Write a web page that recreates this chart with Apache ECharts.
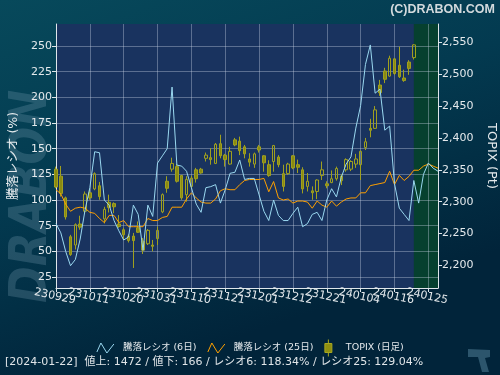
<!DOCTYPE html>
<html><head><meta charset="utf-8">
<script src="https://cdn.jsdelivr.net/npm/echarts@6/dist/echarts.min.js"></script>
<style>html,body{margin:0;padding:0;background:#02283c}#c{width:500px;height:375px}</style>
</head><body><div id="c"></div>
<script>
const dates = ['230929','231002','231003','231004','231005','231006','231010','231011','231012','231013','231016','231017','231018','231019','231020','231023','231024','231025','231026','231027','231030','231031','231101','231102','231106','231107','231108','231109','231110','231113','231114','231115','231116','231117','231120','231121','231122','231124','231127','231128','231129','231130','231201','231204','231205','231206','231207','231208','231211','231212','231213','231214','231215','231218','231219','231220','231221','231222','231225','231226','231227','231228','231229','240104','240105','240109','240110','240111','240112','240115','240116','240117','240118','240119','240122','240123','240124','240125','240126','240129'];
const ratio6 = [77,68,50,36,42,62,90,112,147,146,100,95,80,70,61,64,95,86,51,95,84,136,143,150,210,134,133,128,112,96,88,112,113,115,97,110,126,127,139,120,121,121,105,89,80,100,85,80,80,87,93,74,77,86,88,80,100,111,103,122,135,142,170,192,232,251,204,208,168,172,116,92,86,80,119,97,125,136,131,128];
const ratio25 = [110,106,96,89,92,93,92,88,87,82,78,85,85,78,80,74,74,74,74,82,80,80,83,84,93,93,93,101,107,102,98,97,97,101,109,111,110,110,115,119,120,120,120,121,108,118,102,100,101,97,99,99,98,92,99,95,93,99,94,98,101,102,102,107,107,114,115,116,117,128,115,124,119,123,129,129,133,135,133,131];
const topixOpen = [2351,2340,2306,2245,2232,2265,2285,2314,2320,2325,2273,2299,2297,2265,2256,2246,2246,2259,2238,2234,2232,2242,2284,2332,2351,2355,2341,2311,2324,2350,2351,2368,2369,2360,2391,2373,2359,2397,2395,2386,2367,2359,2386,2372,2358,2363,2370,2344,2344,2372,2358,2350,2324,2317,2316,2341,2328,2330,2336,2340,2350,2351,2359,2358,2385,2415,2415,2483,2505,2497,2524,2514,2494,2519,2526];
const topixClose = [2323,2313,2276,2217,2264,2260,2312,2306,2344,2308,2288,2291,2292,2261,2248,2239,2239,2252,2224,2255,2230,2255,2311,2321,2360,2332,2306,2335,2337,2336,2345,2373,2366,2390,2372,2366,2379,2389,2380,2375,2362,2375,2381,2361,2341,2388,2358,2324,2359,2353,2354,2320,2332,2314,2334,2350,2325,2336,2352,2333,2366,2363,2367,2379,2394,2412,2444,2471,2492,2525,2501,2496,2490,2509,2546];
const topixLow = [2321,2308,2272,2215,2225,2256,2282,2303,2318,2303,2266,2283,2282,2259,2240,2236,2196,2251,2218,2232,2222,2232,2282,2314,2347,2330,2303,2300,2321,2330,2344,2363,2358,2359,2368,2355,2358,2387,2373,2368,2355,2353,2377,2347,2339,2347,2354,2316,2342,2351,2345,2313,2316,2303,2304,2334,2321,2329,2333,2326,2347,2348,2353,2334,2381,2401,2414,2466,2486,2496,2499,2494,2488,2499,2523];
const topixHigh = [2355,2356,2308,2248,2266,2278,2316,2320,2346,2331,2292,2311,2299,2279,2259,2249,2251,2269,2243,2257,2240,2261,2313,2340,2369,2359,2342,2340,2341,2353,2353,2377,2384,2392,2405,2375,2386,2400,2402,2389,2376,2377,2389,2373,2365,2389,2373,2358,2361,2373,2366,2354,2345,2324,2335,2363,2332,2349,2355,2343,2368,2365,2375,2380,2400,2430,2450,2491,2510,2529,2525,2543,2507,2522,2547];
const leftTicks = [25,50,75,100,125,150,175,200,225,250];
const rightTicks = [2200,2250,2300,2350,2400,2450,2500,2550];
const seriesNames = ['騰落レシオ (6日)','騰落レシオ (25日)','TOPIX (日足)'];
const statusText = '[2024-01-22]  値上: 1472 / 値下: 166 / レシオ6: 118.34% / レシオ25: 129.04%';

const FONT = '"DejaVu Sans","Noto Sans CJK JP",sans-serif';
const txt = '#e4e9ec';
const gridLine = 'rgba(200,210,225,0.38)';
const candleData = topixOpen.map((o,i)=>[o, topixClose[i], topixLow[i], topixHigh[i]]);
const labelStyle = {rotate:-12,align:'center',verticalAlign:'top',margin:3,color:txt,fontSize:11,fontFamily:FONT,hideOverlap:false};
const chart = echarts.init(document.getElementById('c'), null, {renderer:'canvas'});
chart.setOption({
  animation:false,
  backgroundColor:{type:'linear',x:0,y:0,x2:0.25,y2:1,colorStops:[{offset:0,color:'#07495b'},{offset:0.5,color:'#033a50'},{offset:1,color:'#01243a'}]},
  grid:{left:56,right:62,top:24,bottom:87,show:true,backgroundColor:'#19335f',borderWidth:0,outerBoundsMode:'none',containLabel:false},
  xAxis:[
    {type:'category',data:dates,boundaryGap:false,z:3,
     axisLine:{lineStyle:{color:'#dfe6ea',width:1}},
     axisTick:{interval:6,length:4,lineStyle:{color:'#dfe6ea'}},
     axisLabel:Object.assign({interval:(i)=>i%14===0},labelStyle),
     splitLine:{show:true,interval:6,lineStyle:{color:gridLine,width:1}}},
    {type:'category',data:dates,boundaryGap:false,position:'bottom',z:3,
     axisLine:{show:false},axisTick:{show:false},splitLine:{show:false},
     axisLabel:Object.assign({interval:(i)=>i%14===7},labelStyle)}
  ],
  yAxis:[
    {type:'value',min:14.3,max:271.4,z:3,name:'騰落レシオ (%)',nameLocation:'middle',nameGap:35,
     nameTextStyle:{color:txt,fontSize:12.5,fontFamily:FONT},
     axisLine:{show:true,lineStyle:{color:'#dfe6ea'}},
     axisTick:{show:true,length:4,customValues:leftTicks,lineStyle:{color:'#dfe6ea'}},
     axisLabel:{customValues:leftTicks,margin:4,color:txt,fontSize:11,fontFamily:FONT},
     splitLine:{show:true,lineStyle:{color:gridLine,width:1}}},
    {type:'value',min:2164.6,max:2578.7,position:'right',z:3,name:'TOPIX (Pt)',nameLocation:'middle',nameGap:39,nameRotate:-90,
     nameTextStyle:{color:txt,fontSize:13,fontFamily:FONT},
     axisLine:{show:true,lineStyle:{color:'#dfe6ea'}},
     axisTick:{show:true,length:4,customValues:rightTicks,lineStyle:{color:'#dfe6ea'}},
     axisLabel:{customValues:rightTicks,margin:4,color:txt,fontSize:11,fontFamily:FONT,
       formatter:v=>String(v).replace(/\B(?=(\d{3})+(?!\d))/g,',')},
     splitLine:{show:false}}
  ],
  legend:{left:'center',top:334,itemWidth:17,itemHeight:17,itemGap:11,
    textStyle:{color:txt,fontSize:9.5,fontFamily:FONT,padding:[0,0,0,4]},
    data:[
      {name:seriesNames[0],icon:'path://M0,9L4,0L10,10L17,1',itemStyle:{color:'rgba(0,0,0,0)',borderColor:'#9ad8f0',borderWidth:1}},
      {name:seriesNames[1],icon:'path://M0,9L4,0L10,10L17,1',itemStyle:{color:'rgba(0,0,0,0)',borderColor:'#ffa000',borderWidth:1}},
      {name:seriesNames[2],icon:'path://M3.5,0L3.5,4M0,4L7,4L7,13L0,13ZM3.5,13L3.5,17',itemStyle:{color:'#8f8f10',borderColor:'#a8a820',borderWidth:1}}
    ]},
  graphic:[
    {type:'text',x:58,y:303,rotation:Math.PI/2,scaleX:0.85,z:-10,silent:true,
     style:{text:'DRABON',align:'left',verticalAlign:'bottom',font:'italic bold 52px "DejaVu Sans"',fill:'rgba(130,165,185,0.26)'}},
    {type:'text',right:5,top:3,silent:true,style:{text:'(C)DRABON.COM',font:'bold 12.5px "Liberation Sans"',fill:'#d3dadd'}},
    {type:'text',left:5,top:357,silent:true,style:{text:statusText,font:'11px '+FONT,fill:'#e0e5e8'}},
    {type:'polygon',silent:true,shape:{points:[[468,349],[490,350],[490,357],[485,358],[489,372],[482,372],[478,357],[468,357]]},style:{fill:'rgba(80,125,150,0.55)'}}
  ],
  series:[
    {type:'line',name:'_area',data:dates.map(()=>null),z:1,silent:true,showSymbol:false,
     markArea:{silent:true,itemStyle:{color:'#06402f'},data:[[{xAxis:'240122'},{xAxis:'240129'}]]}},
    {type:'candlestick',name:seriesNames[2],yAxisIndex:1,data:candleData,barWidth:3,z:4,
     itemStyle:{color:'rgba(0,0,0,0)',color0:'#8a8a12',borderColor:'#a0a01e',borderColor0:'#a0a01e',borderWidth:1}},
    {type:'line',name:seriesNames[1],data:ratio25,showSymbol:false,z:5,lineStyle:{color:'#ffa000',width:1},itemStyle:{color:'#ffa000'}},
    {type:'line',name:seriesNames[0],data:ratio6,showSymbol:false,z:6,lineStyle:{color:'#9ad8f0',width:1},itemStyle:{color:'#9ad8f0'}}
  ]
});
</script></body></html>
